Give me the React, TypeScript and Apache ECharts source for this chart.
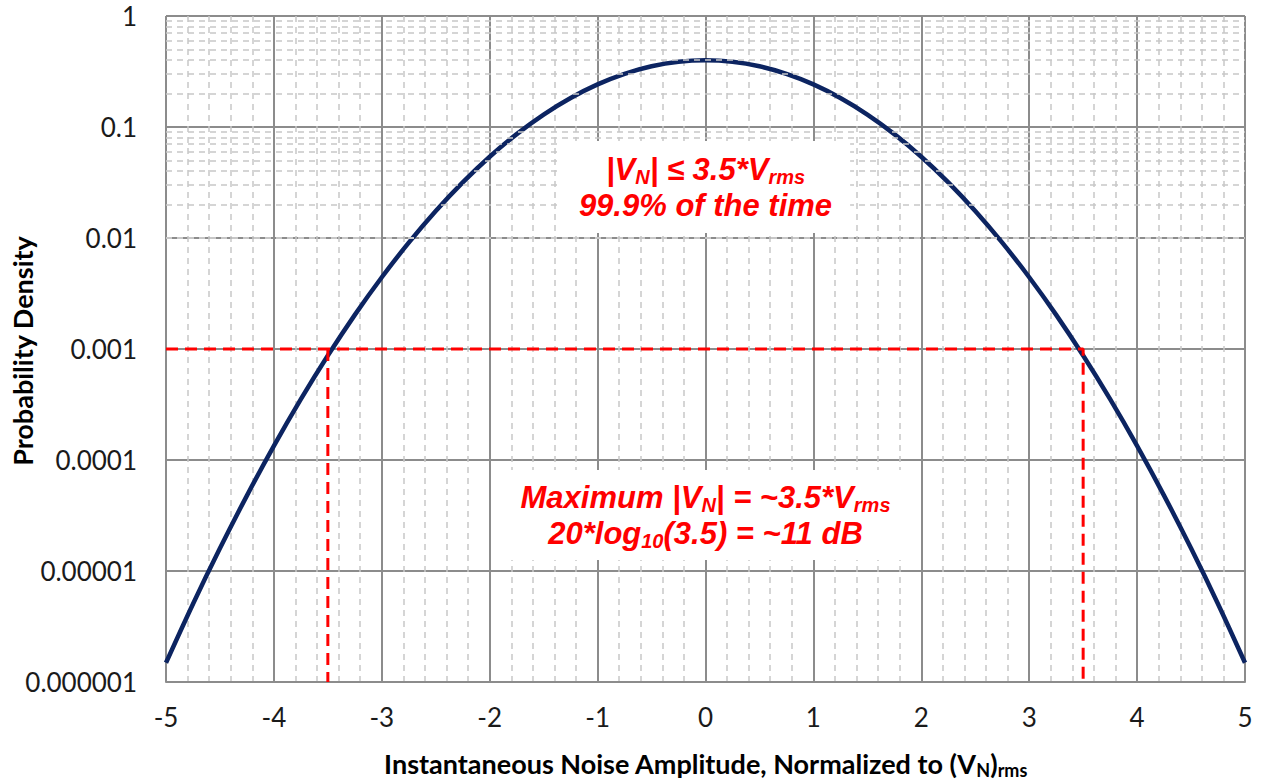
import React, { useEffect, useRef } from 'react';
import * as echarts from 'echarts';

// Amplitude (normalized to Vrms) and probability density
const amplitude = [
  -5, -4.75, -4.5, -4.25, -4, -3.75, -3.5, -3.25, -3, -2.75, -2.5, -2.25, -2, -1.75, -1.5, -1.25, -1, -0.75, -0.5, -0.25,
  0, 0.25, 0.5, 0.75, 1, 1.25, 1.5, 1.75, 2, 2.25, 2.5, 2.75, 3, 3.25, 3.5, 3.75, 4, 4.25, 4.5, 4.75, 5,
];
const density = [
  1.49e-6, 5.05e-6, 1.6e-5, 4.78e-5, 1.34e-4, 3.53e-4, 8.73e-4, 2.03e-3, 4.43e-3, 9.08e-3, 1.75e-2, 3.17e-2, 5.4e-2,
  8.63e-2, 0.1295, 0.1826, 0.242, 0.3011, 0.3521, 0.3867,
  0.3989, 0.3867, 0.3521, 0.3011, 0.242, 0.1826, 0.1295, 0.0863, 0.054, 0.0317, 0.0175, 0.00908, 0.00443, 0.00203,
  8.73e-4, 3.53e-4, 1.34e-4, 4.78e-5, 1.6e-5, 5.05e-6, 1.49e-6,
];

const yTickValues = [1e-6, 1e-5, 1e-4, 1e-3, 1e-2, 1e-1, 1];
const yTickLabels = ['0.000001', '0.00001', '0.0001', '0.001', '0.01', '0.1', '1'];
const xMin = -5;
const xMax = 5;

const thresholdLevel = 0.001;
const thresholdAmplitude = [-3.5, 3.5];

const note1Anchor = [0, 0.0288];
const note2Anchor = [0, 3.19e-5];

const note1Text = '{m||V}{s|N}{m|| ≤ 3.5*V}{s|rms}\n{m|99.9% of the time}';
const note2Text = '{m|Maximum |V}{s|N}{m|| = ~3.5*V}{s|rms}\n{m|20*log}{s|10}{m|(3.5) = ~11 dB}';
const xTitle = '{t|Instantaneous Noise Amplitude, Normalized to (V}{ts|N}{t|)}{ts|rms}';
const yTitle = 'Probability Density';

const GRID_LEFT = 166;
const GRID_RIGHT = 21;
const GRID_TOP = 16;
const GRID_BOTTOM = 100;

export default function App() {
  const ref = useRef<HTMLDivElement>(null);

  useEffect(() => {
    const chart = echarts.init(ref.current!, null, { renderer: 'svg' });

    const minorY: number[] = [];
    for (let k = 0; k < yTickValues.length - 1; k++) {
      for (let m = 2; m <= 9; m++) minorY.push(m * yTickValues[k]);
    }

    const labelFor = (v: number) => {
      for (let i = 0; i < yTickValues.length; i++) {
        if (Math.abs(Math.log10(yTickValues[i]) - Math.log10(v)) < 1e-6) return yTickLabels[i];
      }
      return '';
    };

    const redStyle = { color: '#ff0000', width: 3, type: [12, 7] as any };
    const floor = yTickValues[0];
    const minorStyle = { color: '#c8c8c8', width: 1.5, type: [6, 5] as any };

    chart.setOption({
      animation: false,
      backgroundColor: '#ffffff',
      grid: { left: GRID_LEFT, right: GRID_RIGHT, top: GRID_TOP, bottom: GRID_BOTTOM, containLabel: false },
      xAxis: {
        type: 'value',
        min: xMin,
        max: xMax,
        interval: 1,
        axisLine: { show: true, lineStyle: { color: '#8c8c8c', width: 2 } },
        axisTick: { show: false },
        axisLabel: { fontFamily: 'Lato', fontSize: 26, color: '#1a1a1a', margin: 22 },
        splitLine: { show: true, lineStyle: { color: '#8c8c8c', width: 2 } },
        minorTick: { show: false, splitNumber: 5 },
        minorSplitLine: { show: true, lineStyle: minorStyle },
      },
      yAxis: {
        type: 'log',
        logBase: 10,
        min: yTickValues[0],
        max: yTickValues[yTickValues.length - 1],
        splitNumber: 6,
        axisLine: { show: true, lineStyle: { color: '#8c8c8c', width: 2 } },
        axisTick: { show: false },
        axisLabel: { fontFamily: 'Lato', fontSize: 26, color: '#1a1a1a', margin: 29, formatter: labelFor },
        splitLine: { show: true, lineStyle: { color: '#8c8c8c', width: 2 } },
      },
      series: [
        {
          type: 'line',
          data: [],
          z: 1,
          silent: true,
          markLine: {
            silent: true,
            symbol: ['none', 'none'],
            label: { show: false },
            animation: false,
            lineStyle: minorStyle,
            emphasis: { disabled: true },
            data: minorY.map((v) => ({ yAxis: v })),
          },
        },
        {
          type: 'line',
          z: 4,
          symbol: 'none',
          smooth: 0.3,
          lineStyle: { color: '#0c2461', width: 4.5 },
          data: amplitude.map((x, i) => [x, density[i]]),
        },
        {
          type: 'line',
          z: 5,
          symbol: 'none',
          lineStyle: redStyle,
          data: [
            [xMin, thresholdLevel],
            [thresholdAmplitude[1], thresholdLevel],
            [thresholdAmplitude[1], floor],
          ],
        },
        {
          type: 'line',
          z: 5,
          symbol: 'none',
          lineStyle: redStyle,
          data: [
            [thresholdAmplitude[0], thresholdLevel],
            [thresholdAmplitude[0], floor],
          ],
        },
      ],
    });

    const p1 = chart.convertToPixel({ gridIndex: 0 }, note1Anchor) as number[];
    const p2 = chart.convertToPixel({ gridIndex: 0 }, note2Anchor) as number[];

    const noteRich = {
      m: {
        fontFamily: 'Liberation Sans',
        fontWeight: 'bold',
        fontStyle: 'italic',
        fontSize: 31,
        lineHeight: 36,
        fill: '#ff0000',
        color: '#ff0000',
      },
      s: {
        fontFamily: 'Liberation Sans',
        fontWeight: 'bold',
        fontStyle: 'italic',
        fontSize: 20,
        lineHeight: 16,
        verticalAlign: 'bottom',
        fill: '#ff0000',
        color: '#ff0000',
      },
    };

    chart.setOption({
      graphic: [
        {
          type: 'text',
          z: 10,
          x: p1[0],
          y: p1[1],
          style: {
            text: note1Text,
            rich: noteRich,
            align: 'center',
            verticalAlign: 'middle',
            fill: '#ff0000',
            backgroundColor: '#ffffff',
            padding: [10, 18, 10, 18],
          },
        },
        {
          type: 'text',
          z: 10,
          x: p2[0],
          y: p2[1],
          style: {
            text: note2Text,
            rich: noteRich,
            align: 'center',
            verticalAlign: 'middle',
            fill: '#ff0000',
            backgroundColor: '#ffffff',
            padding: [9, 14, 9, 14],
          },
        },
        {
          type: 'text',
          z: 10,
          x: GRID_LEFT + (1266 - GRID_LEFT - GRID_RIGHT) / 2,
          y: 763,
          style: {
            text: xTitle,
            align: 'center',
            verticalAlign: 'middle',
            rich: {
              t: { fontFamily: 'Lato', fontWeight: 'bold', fontSize: 27, lineHeight: 32, fill: '#000' },
              ts: { fontFamily: 'Lato', fontWeight: 'bold', fontSize: 18, lineHeight: 14, verticalAlign: 'bottom', fill: '#000' },
            },
          },
        },
        {
          type: 'text',
          z: 10,
          x: 22,
          y: 351,
          rotation: Math.PI / 2,
          style: {
            text: yTitle,
            align: 'center',
            verticalAlign: 'middle',
            fontFamily: 'Lato',
            fontWeight: 'bold',
            fontSize: 27,
            fill: '#000',
          },
        },
      ],
    });

    return () => chart.dispose();
  }, []);

  return (
    <div
      ref={ref}
      style={{ position: 'fixed', left: 0, top: 0, width: 1266, height: 782, background: '#ffffff' }}
    />
  );
}
